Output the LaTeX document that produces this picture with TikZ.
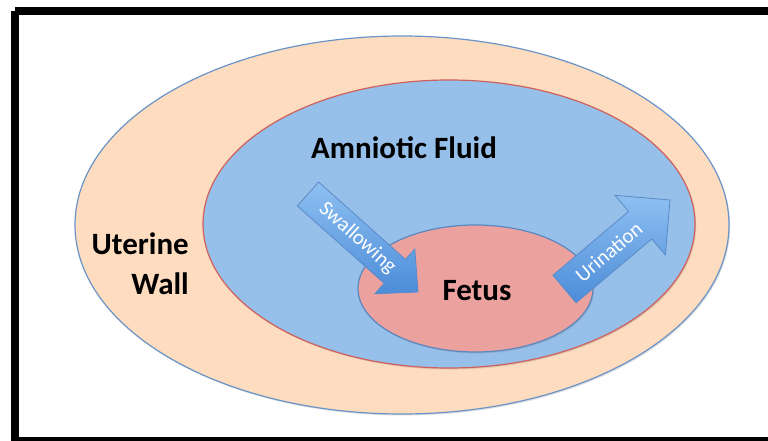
\documentclass[tikz,border=0pt]{standalone}
\usepackage{fontspec}
\setmainfont{Carlito}
\usetikzlibrary{calc,shadows,shapes.geometric}
\definecolor{peach}{HTML}{FDDCBF}
\definecolor{wallline}{HTML}{6A94C8}
\definecolor{fluid}{HTML}{96BFE9}
\definecolor{fluidline}{HTML}{D0605C}
\definecolor{fetusfill}{HTML}{EBA29F}
\definecolor{fetusline}{HTML}{5B87C0}
\definecolor{arrowlight}{HTML}{8EC0F1}
\definecolor{arrowdark}{HTML}{4C8CD9}
\definecolor{arrowline}{HTML}{5A8AC8}
\tikzset{
  region/.style={ellipse, inner sep=0pt, line width=1.2pt,
    drop shadow={opacity=0.25, shadow xshift=1.2pt, shadow yshift=-1.5pt}},
  biglabel/.style={font=\fontsize{31}{40}\selectfont\bfseries, text=black, inner sep=0pt},
  arrowlabel/.style={font=\fontsize{21}{24}\selectfont, text=white, inner sep=0pt},
  blockstyle/.style={draw=arrowline, line width=0.8pt, top color=arrowlight, bottom color=arrowdark}
}
\newcommand\blockarrow[5]{%
  \coordinate (neck) at ($(#2)!#5!(#1)$);
  \path[blockstyle] ($(#1)!#3!90:(#2)$) -- ($(neck)!#3!90:(#2)$) -- ($(neck)!#4!90:(#2)$)
    -- (#2) -- ($(neck)!#4!-90:(#2)$) -- ($(neck)!#3!-90:(#2)$) -- ($(#1)!#3!-90:(#2)$) -- cycle;
}
\begin{document}
\begin{tikzpicture}[x=1pt,y=-1pt]
\useasboundingbox (0,0) rectangle (768,441);
\clip (0,0) rectangle (768,441);
\fill[white] (0,0) rectangle (768,441);
% regions
\node[region, fill=peach, draw=wallline, minimum width=654pt, minimum height=378pt] (wall) at (402,225) {};
\node[region, fill=fluid, draw=fluidline, minimum width=492pt, minimum height=288pt] (fluid) at (449,224) {};
\node[region, fill=fetusfill, draw=fetusline, minimum width=235pt, minimum height=127pt] (fetus) at (475.5,288.5) {};
% labels
\node[biglabel, anchor=base] (amnlabel) at (404,158) {Amniotic Fluid};
\node[biglabel, anchor=base] (fetlabel) at (477,300) {Fetus};
\node[biglabel, align=right, anchor=north east] (walllabel) at (189,233) {Uterine\\Wall};
% arrows
\coordinate (swT) at (308,194);
\coordinate (swP) at (418,292);
\blockarrow{swT}{swP}{16pt}{30pt}{31pt}
\path (swT) -- (swP) node[arrowlabel, pos=0.45, sloped] (swlabel) {Swallowing};
\coordinate (urT) at (564.5,289);
\coordinate (urP) at (670,200);
\blockarrow{urT}{urP}{18pt}{39pt}{39pt}
\path (urT) -- (urP) node[arrowlabel, pos=0.42, sloped] (urlabel) {Urination};
% frame
\draw[black, line width=8pt] (15,11) -- (790,11) (15,11) -- (15,460) (15,441) -- (790,441);
\end{tikzpicture}
\end{document}
